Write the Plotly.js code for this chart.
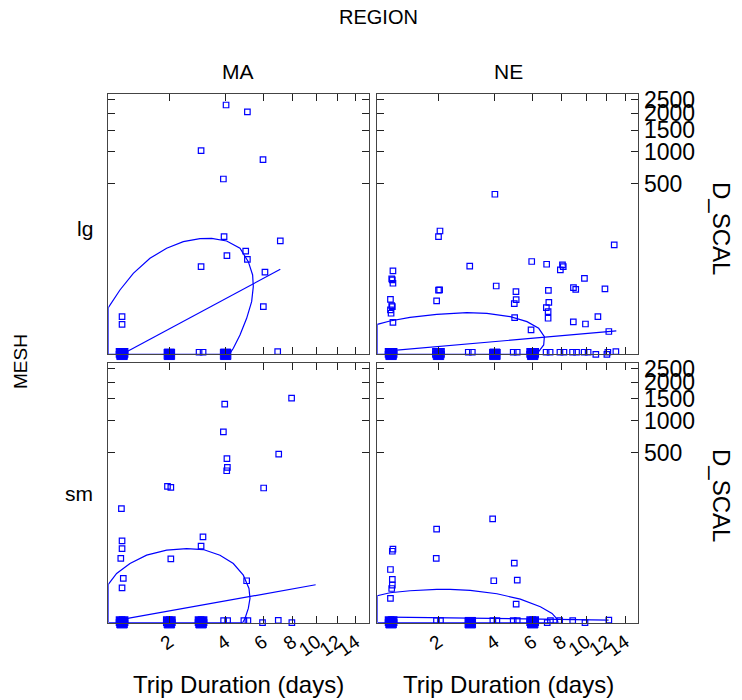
<!DOCTYPE html>
<html>
<head>
<meta charset="utf-8">
<script src="https://cdn.plot.ly/plotly-3.0.1.min.js"></script>
<style>html,body{margin:0;padding:0;background:#fff;}#chart{width:742px;height:700px;}</style>
</head>
<body>
<div id="chart"></div>
<script>
// ---------- DATA ----------
var regions = ['MA', 'NE'];
var meshes = ['lg', 'sm'];
var xTickVals = [2, 4, 6, 8, 10, 12, 14];
var yTickVals = [500, 1000, 1500, 2000, 2500];

// MA / lg : non-zero catches
var maLgX = [4.02,5.08,3.0,5.98,3.9,3.93,7.11,4.99,4.06,5.08,3.0,6.1,6.0,1.0,1.0];
var maLgY = [2290,2045,1020,850,560,114,98,67,56,48,35,27,3.06,1.19,0.48];
// MA / lg : zero catches (overplotted at the baseline)
var maLgZeroX = [0.953,1,1.049,0.953,1,1.049,0.953,1,1.049,
  1.946,2.054,1.946,2.054, 2.927,3.074,2.927,3.074, 3.91,4.091,3.91,4.091, 5.05, 6.0, 6.93];
var maLgZeroY = [-0.00005,-0.00005,-0.00005,0,0,0,0.00005,0.00005,0.00005,
  -0.00001,-0.00001,0.00001,0.00001, -0.00001,-0.00001,0.00001,0.00001, -0.00001,-0.00001,0.00001,0.00001, -0.00001, -0.00001, 0.00003];
// durations where many zero catches pile up into a solid blob
var maLgPileX = [1, 2, 4];
var maLgPileY = [0, 0, 0];
var maLgLineX = [1.0, 7.11];
var maLgLineY = [0, 31];
var maLgEllX = [0.7975,0.7975,0.967,1.1925,1.527,1.928,2.4025,2.96,3.404,4.047,4.691,5.13,5.37,5.408,5.314,5.04,4.691,4.36,4.17,0.7975];
var maLgEllY = [0,2.81,10.15,25.5,50.4,74.9,95.6,106.2,107.4,97.9,74.9,43.7,23.5,12.44,4.56,0.996,0.0829,0.00077,0,0];

// NE / lg
var neLgX = [4.0,2.04,2.0,12.77,5.94,2.98,6.9,8.04,8.1,7.88,1.03,1.01,1.02,1.03,9.85,4.06,2.03,2.0,8.91,9.1,
  11.8,5.04,7.02,1.95,0.99,5.05,7.05,4.95,1.01,1.02,0.99,1.0,1.03,6.88,7.0,7.0,4.97,11.1,8.9,9.94,5.9,12.2];
var neLgY = [389,137,114,85,44,36,39,38,35,30,28.6,19.1,18.1,15.1,19.8,12.9,10.2,10.0,11.7,10.6,
  10.8,9.15,9.95,4.8,5.43,5.3,4.34,3.91,3.33,3.06,2.29,1.68,0.62,2.81,1.97,1.0,1.07,1.19,0.65,0.5,0.21,0.16];
var neLgZeroX = [0.953,1,1.049,0.953,1,1.049,0.953,1,1.049,
  1.919,2,2.081,1.919,2,2.081,1.919,2,2.081,
  2.927,3.074,2.927,3.074, 3.91,4.091,3.91,4.091, 4.893,5.107,4.893,5.107,
  5.817,6,6.185,5.817,6,6.185,5.817,6,6.185,
  6.863,7.139,6.863,7.139, 7.849,8.153,7.849,8.153, 8.836,9.168,8.836,9.168, 9.822,10.18,9.822,10.18,
  10.9,11.1, 12.0,12.1, 12.95];
var neLgZeroY = [-0.00005,-0.00005,-0.00005,0,0,0,0.00005,0.00005,0.00005,
  -0.00005,-0.00005,-0.00005,0,0,0,0.00005,0.00005,0.00005,
  -0.00001,-0.00001,0.00001,0.00001, -0.00001,-0.00001,0.00001,0.00001, -0.00001,-0.00001,0.00001,0.00001,
  -0.00005,-0.00005,-0.00005,0,0,0,0.00005,0.00005,0.00005,
  -0.00001,-0.00001,0.00001,0.00001, -0.00001,-0.00001,0.00001,0.00001, -0.00001,-0.00001,0.00001,0.00001, -0.00001,-0.00001,0.00001,0.00001,
  0,-0.00001, 0,0.00001, 0.00003];
var neLgPileX = [1, 2, 4, 6];
var neLgPileY = [0, 0, 0, 0];
var neLgLineX = [1.0, 13.0];
var neLgLineY = [0.000107, 0.176];
var neLgEllX = [0.7975,0.7975,0.9829,1.339,1.954,2.8765,3.651,4.742,5.658,6.375,6.747,6.702,6.375,6.164,0.7975];
var neLgEllY = [0,0.4805,0.732,1.1116,1.518,1.788,1.676,1.194,0.6755,0.2711,0.0578,0.0045,0.00003,0,0];

// MA / sm
var maSmX = [7.93,3.96,3.9,7.0,4.06,4.08,4.05,1.95,2.04,6.02,0.99,3.07,3.0,1.0,1.0,0.98,2.04,1.02,1.0,5.04];
var maSmY = [1520,1365,795,484,433,348,319,207,201,197,101,32.5,20.5,26.8,18.1,10.2,9.95,2.29,0.89,1.85];
var maSmZeroX = [0.953,1,1.049,0.953,1,1.049,0.953,1,1.049,
  1.919,2,2.081,1.919,2,2.081,1.919,2,2.081,
  2.891,3,3.110,2.891,3,3.110,2.891,3,3.110,
  3.91,4.091,3.91,4.091, 4.893,5.107,4.893,5.107, 5.95,6.1, 6.97, 7.95,8.1, 9.86];
var maSmZeroY = [-0.00005,-0.00005,-0.00005,0,0,0,0.00005,0.00005,0.00005,
  -0.00005,-0.00005,-0.00005,0,0,0,0.00005,0.00005,0.00005,
  -0.00005,-0.00005,-0.00005,0,0,0,0.00005,0.00005,0.00005,
  -0.00001,-0.00001,0.00001,0.00001, -0.00001,-0.00001,0.00001,0.00001, 0,-0.00001, 0.00002, 0,-0.00001, -0.00001];
var maSmPileX = [1, 2, 3];
var maSmPileY = [0, 0, 0];
var maSmLineX = [1.0, 9.91];
var maSmLineY = [0.0000732, 1.237];
var maSmEllX = [0.7975,0.7975,0.916,1.133,1.4552,1.928,2.507,3.082,3.751,4.36,4.863,5.167,5.222,5.13,4.951,4.828,0.7975];
var maSmEllY = [0,1.2807,3.513,7.351,12.44,16.54,18.11,17.15,12.44,7.351,3.06,0.824,0.208,0.025,0.0002,0,0];

// NE / sm
var neSmX = [3.9,1.95,1.03,1.02,1.94,0.99,4.95,1.02,3.95,5.11,1.02,1.01,0.99,5.05,7.83,12.2];
var neSmY = [69.4,45.7,17.5,15.6,10.2,4.8,7.52,2.09,1.85,1.97,1.19,0.82,0.21,0.072,0.00001,0.00003];
var neSmZeroX = [0.953,1,1.049,0.953,1,1.049,0.953,1,1.049,
  1.946,2.054,1.946,2.054, 2.927,3.074,2.927,3.074, 3.91,4.091,3.91,4.091, 4.893,5.107,4.893,5.107,
  5.817,6,6.185,5.817,6,6.185,5.817,6,6.185,
  6.94,7.16, 8.85,9.08, 9.9,10.05, 10.95];
var neSmZeroY = [-0.00005,-0.00005,-0.00005,0,0,0,0.00005,0.00005,0.00005,
  -0.00001,-0.00001,0.00001,0.00001, -0.00001,-0.00001,0.00001,0.00001, -0.00001,-0.00001,0.00001,0.00001, -0.00001,-0.00001,0.00001,0.00001,
  -0.00005,-0.00005,-0.00005,0,0,0,0.00005,0.00005,0.00005,
  0,0.00001, 0.00001,-0.00001, 0,-0.00001, -0.00001];
var neSmPileX = [1, 3, 6];
var neSmPileY = [0, 0, 0];
var neSmLineX = [0.972, 12.17];
var neSmLineY = [0.00061, 0.00003];
var neSmEllX = [0.7975,0.7975,0.9829,1.339,1.954,2.332,2.997,4.092,5.278,6.484,7.275,7.635,7.709,0.7975];
var neSmEllY = [0,0.3153,0.4805,0.622,0.732,0.732,0.6483,0.4195,0.1861,0.0389,0.0045,0.000107,0,0];

// ---------- signed fourth-root scale ----------
function q(v) { return (v < 0 ? -1 : 1) * Math.pow(Math.abs(v), 0.25); }
function qa(a) { return a.map(q); }

var BLUE = '#0000ff';
var panels = [
  {px: maLgX, py: maLgY, zx: maLgZeroX, zy: maLgZeroY, bx: maLgPileX, by: maLgPileY, lx: maLgLineX, ly: maLgLineY, ex: maLgEllX, ey: maLgEllY, xa: 'x',  ya: 'y'},
  {px: neLgX, py: neLgY, zx: neLgZeroX, zy: neLgZeroY, bx: neLgPileX, by: neLgPileY, lx: neLgLineX, ly: neLgLineY, ex: neLgEllX, ey: neLgEllY, xa: 'x2', ya: 'y2'},
  {px: maSmX, py: maSmY, zx: maSmZeroX, zy: maSmZeroY, bx: maSmPileX, by: maSmPileY, lx: maSmLineX, ly: maSmLineY, ex: maSmEllX, ey: maSmEllY, xa: 'x3', ya: 'y3'},
  {px: neSmX, py: neSmY, zx: neSmZeroX, zy: neSmZeroY, bx: neSmPileX, by: neSmPileY, lx: neSmLineX, ly: neSmLineY, ex: neSmEllX, ey: neSmEllY, xa: 'x4', ya: 'y4'}
];
var MARK = {symbol: 'square-open', size: 5.5, color: BLUE, line: {width: 1.2, color: BLUE}};
var traces = [];
panels.forEach(function(p) {
  traces.push({type: 'scatter', mode: 'lines', x: qa(p.ex), y: qa(p.ey), xaxis: p.xa, yaxis: p.ya,
    line: {color: BLUE, width: 1.2}, hoverinfo: 'skip'});
  traces.push({type: 'scatter', mode: 'lines', x: qa(p.lx), y: qa(p.ly), xaxis: p.xa, yaxis: p.ya,
    line: {color: BLUE, width: 1.2}, hoverinfo: 'skip'});
  traces.push({type: 'scatter', mode: 'markers', x: qa(p.px), y: qa(p.py), xaxis: p.xa, yaxis: p.ya,
    marker: MARK, cliponaxis: false});
  traces.push({type: 'scatter', mode: 'markers', x: qa(p.zx), y: qa(p.zy), xaxis: p.xa, yaxis: p.ya,
    marker: MARK, cliponaxis: false});
  traces.push({type: 'scatter', mode: 'markers', x: qa(p.bx), y: qa(p.by), xaxis: p.xa, yaxis: p.ya,
    marker: {symbol: 'square', size: 10.5, color: BLUE, opacity: 1, line: {width: 1, color: BLUE}}, cliponaxis: false});
});

var W = 742, H = 700;
function px(v) { return v / W; }
function py(v) { return 1 - v / H; }
var FONT = 'Liberation Sans, Arial, Helvetica, sans-serif';
var xRange = [0.945, 1.9865];
var yRange = [0, 7.215];

function xAxis(domain, anchor, labels) {
  return {domain: domain, anchor: anchor, range: xRange, showgrid: false, zeroline: false,
    showline: true, mirror: 'ticks', linecolor: '#444', linewidth: 1,
    ticks: 'inside', ticklen: 7, tickcolor: '#222', tickwidth: 1,
    tickvals: qa(xTickVals), ticktext: xTickVals.map(String),
    showticklabels: labels, tickangle: -35, tickfont: {family: FONT, size: 19, color: '#000'}};
}
function yAxis(domain, anchor, labels) {
  return {domain: domain, anchor: anchor, range: yRange, showgrid: false, zeroline: false,
    showline: true, mirror: 'ticks', linecolor: '#444', linewidth: 1, side: 'right',
    ticks: 'inside', ticklen: 7, tickcolor: '#222', tickwidth: 1,
    tickvals: qa(yTickVals), ticktext: yTickVals.map(String),
    showticklabels: labels, tickfont: {family: FONT, size: 23, color: '#000'}};
}
var c1 = [px(108.3), px(368.7)], c2 = [px(377.3), px(638.3)];
var r1 = [py(354.3), py(94.3)], r2 = [py(622.7), py(363.3)];

function ann(text, x, y, size, angle, xanchor) {
  return {text: text, x: px(x), y: py(y), xref: 'paper', yref: 'paper', showarrow: false,
    xanchor: xanchor || 'center', yanchor: 'middle', textangle: angle || 0,
    font: {family: FONT, size: size, color: '#000'}};
}

var layout = {
  width: W, height: H, margin: {l: 0, r: 0, t: 0, b: 0},
  paper_bgcolor: '#fff', plot_bgcolor: '#fff', showlegend: false,
  xaxis: xAxis(c1, 'y', false), yaxis: yAxis(r1, 'x', false),
  xaxis2: xAxis(c2, 'y2', false), yaxis2: yAxis(r1, 'x2', true),
  xaxis3: xAxis(c1, 'y3', true), yaxis3: yAxis(r2, 'x3', false),
  xaxis4: xAxis(c2, 'y4', true), yaxis4: yAxis(r2, 'x4', true),
  annotations: [
    ann('REGION', 378, 17, 20),
    ann(regions[0], 238, 71, 21),
    ann(regions[1], 508, 71, 21),
    ann(meshes[0], 95, 228, 21, 0, 'right'),
    ann(meshes[1], 95, 493, 21, 0, 'right'),
    ann('MESH', 20, 362, 19, -90),
    ann('D_SCAL', 722, 228, 24, 90),
    ann('D_SCAL', 722, 495, 24, 90),
    ann('Trip Duration (days)', 238, 684, 24),
    ann('Trip Duration (days)', 508, 684, 24)
  ]
};
Plotly.newPlot('chart', traces, layout, {staticPlot: true, displayModeBar: false});
</script>
</body>
</html>
